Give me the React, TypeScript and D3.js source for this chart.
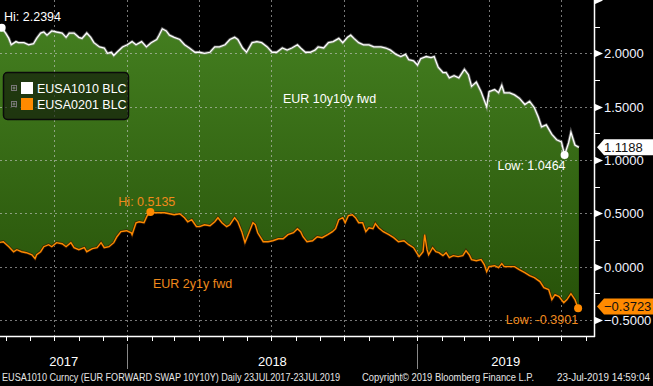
import React from "react";
import * as d3 from "d3";

// EUSA1010 (EUR 10y10y fwd) — [days since 23 Jul 2017, value]
const tenYTenY: [number, number][] = [
  [0, 2.22], [4, 2.2394], [9, 2.19], [13, 2.14], [16, 2.08], [22, 2.11], [25, 2.1], [32, 2.1],
  [38, 2.08], [44, 2.09], [48, 2.14], [53, 2.19], [57, 2.2], [61, 2.17], [67, 2.21], [73, 2.2],
  [80, 2.19], [85, 2.15], [89, 2.19], [95, 2.19], [101, 2.15], [105, 2.14], [111, 2.19], [116, 2.15],
  [120, 2.1], [127, 2.06], [133, 2.05], [137, 2.0], [142, 2.01], [145, 1.98], [149, 2.01], [156, 2.06],
  [162, 2.08], [168, 2.11], [173, 2.08], [180, 2.11], [186, 2.06], [192, 2.1], [199, 2.13], [202, 2.17],
  [206, 2.23], [211, 2.21], [215, 2.17], [221, 2.15], [228, 2.13], [234, 2.08], [240, 2.05], [247, 2.01],
  [253, 2.01], [259, 2.0], [266, 2.01], [272, 2.06], [278, 2.06], [285, 2.08], [291, 2.13], [297, 2.15],
  [301, 2.13], [307, 2.05], [312, 2.01], [319, 2.1], [325, 2.11], [331, 2.1], [338, 2.06], [344, 2.01],
  [350, 2.01], [357, 2.05], [363, 2.03], [369, 2.05], [376, 2.08], [380, 2.05], [386, 2.01], [392, 2.01],
  [398, 2.03], [402, 2.06], [409, 2.05], [415, 2.1], [421, 2.11], [428, 2.14], [433, 2.1], [439, 2.15],
  [443, 2.17], [447, 2.14], [453, 2.1], [459, 2.08], [466, 2.08], [472, 2.06], [481, 2.06], [487, 2.05],
  [493, 2.03], [500, 1.99], [506, 1.97], [512, 1.99], [516, 1.94], [522, 1.93], [527, 1.89], [531, 1.95],
  [538, 1.97], [544, 1.96], [548, 1.97], [553, 1.87], [559, 1.82], [563, 1.82], [567, 1.77], [573, 1.79],
  [579, 1.77], [586, 1.85], [591, 1.8], [595, 1.69], [601, 1.73], [607, 1.64], [614, 1.5], [617, 1.64],
  [624, 1.66], [629, 1.63], [633, 1.7], [636, 1.63], [643, 1.63], [649, 1.61], [655, 1.58], [662, 1.52],
  [668, 1.55], [674, 1.49], [679, 1.4], [683, 1.31], [689, 1.33], [696, 1.24], [702, 1.19], [708, 1.17],
  [712, 1.0464], [717, 1.16], [720, 1.26], [725, 1.14], [730, 1.1188],
];

// EUSA0201 (EUR 2y1y fwd)
const twoYOneY: [number, number][] = [
  [0, 0.225], [6, 0.234], [13, 0.187], [19, 0.14], [23, 0.159], [29, 0.14], [35, 0.131], [42, 0.112],
  [46, 0.075], [48, 0.112], [53, 0.14], [57, 0.187], [63, 0.206], [67, 0.187], [73, 0.225], [80, 0.215],
  [85, 0.187], [91, 0.225], [95, 0.178], [101, 0.159], [108, 0.178], [111, 0.14], [118, 0.169], [124, 0.178],
  [129, 0.225], [133, 0.178], [139, 0.187], [145, 0.225], [149, 0.281], [154, 0.328], [161, 0.337], [167, 0.318],
  [168, 0.3], [173, 0.412], [177, 0.421], [183, 0.412], [187, 0.478], [191, 0.5135], [196, 0.506], [202, 0.506],
  [209, 0.506], [215, 0.496], [221, 0.487], [228, 0.496], [234, 0.459], [238, 0.421], [243, 0.44], [249, 0.375],
  [253, 0.375], [259, 0.393], [266, 0.384], [272, 0.421], [276, 0.459], [281, 0.412], [287, 0.375], [291, 0.393],
  [297, 0.459], [301, 0.421], [306, 0.328], [310, 0.225], [314, 0.3], [320, 0.412], [323, 0.393], [326, 0.318],
  [333, 0.234], [339, 0.234], [345, 0.243], [352, 0.262], [358, 0.262], [364, 0.3], [371, 0.318], [376, 0.356],
  [380, 0.328], [383, 0.281], [388, 0.234], [395, 0.243], [401, 0.281], [407, 0.272], [414, 0.3], [420, 0.328],
  [424, 0.356], [428, 0.44], [433, 0.459], [436, 0.412], [440, 0.478], [445, 0.487], [449, 0.459], [453, 0.412],
  [458, 0.412], [462, 0.328], [466, 0.365], [471, 0.356], [474, 0.403], [478, 0.365], [484, 0.328], [491, 0.3],
  [497, 0.272], [503, 0.234], [510, 0.243], [516, 0.206], [522, 0.178], [529, 0.094], [534, 0.14], [536, 0.3],
  [539, 0.159], [541, 0.112], [546, 0.178], [550, 0.14], [554, 0.131], [559, 0.103], [563, 0.131], [567, 0.084],
  [572, 0.103], [578, 0.094], [584, 0.103], [588, 0.15], [592, 0.112], [595, 0.066], [601, 0.056], [607, 0.066],
  [611, 0.019], [614, -0.047], [617, 0.0], [624, 0.009], [629, -0.009], [633, 0.028], [636, 0.0], [643, 0.0],
  [649, 0.0], [655, -0.028], [662, -0.056], [668, -0.084], [674, -0.103], [681, -0.14], [686, -0.197], [692, -0.215],
  [696, -0.309], [700, -0.262], [705, -0.281], [711, -0.337], [715, -0.309], [720, -0.253], [725, -0.309], [729, -0.3901],
  [730, -0.3723],
];

const majorTicks = [2.5, 2.0, 1.5, 1.0, 0.5, 0.0, -0.5];
const minorTicks = [2.25, 1.75, 1.25, 0.75, 0.25, -0.25];
const years = [2017, 2018, 2019];
const legendItems = [
  { label: "EUSA1010 BLC", color: "#ffffff" },
  { label: "EUSA0201 BLC", color: "#ff8a00" },
];
const footerLeft = "EUSA1010 Curncy (EUR FORWARD SWAP 10Y10Y)  Daily 23JUL2017-23JUL2019";
const footerMid = "Copyright\u00a9 2019 Bloomberg Finance L.P.";
const footerRight = "23-Jul-2019 14:59:04";

const W = 653;
const H = 386;
const AXIS_X = 594;
const PLOT_BOTTOM = 336;
const FONT = "'Liberation Sans', Arial, sans-serif";
const ORANGE = "#ff8a00";
const ORANGE_TEXT = "#f08a1c";

const START = new Date(2017, 6, 23);
const toDate = (d: number) => d3.timeDay.offset(START, d);

export default function App() {
  const x = d3.scaleTime().domain([START, new Date(2019, 7, 11)]).range([-1.5, AXIS_X]);
  const y = d3.scaleLinear().domain([-0.65, 2.5]).range([PLOT_BOTTOM, 0]);
  const fmt = d3.format(".4f");

  const whitePts = tenYTenY.map(([d, v]) => [x(toDate(d)), y(v)] as [number, number]);
  const orangePts = twoYOneY.map(([d, v]) => [x(toDate(d)), y(v)] as [number, number]);
  const line = d3.line();
  const bandPath = line([...whitePts, ...orangePts.slice().reverse()]) + "Z";

  const quarters = d3.timeMonth.every(3)!.range(new Date(2017, 8, 1), new Date(2019, 7, 1));
  const months = d3.timeMonth.range(new Date(2017, 7, 1), new Date(2019, 7, 12));
  const yearBounds = [START, new Date(2018, 0, 1), new Date(2019, 0, 1), new Date(2019, 7, 11)];

  const hiW = tenYTenY.reduce((a, b) => (b[1] > a[1] ? b : a));
  const loW = tenYTenY.reduce((a, b) => (b[1] < a[1] ? b : a));
  const hiO = twoYOneY.reduce((a, b) => (b[1] > a[1] ? b : a));
  const loO = twoYOneY.reduce((a, b) => (b[1] < a[1] ? b : a));
  const lastW = tenYTenY[tenYTenY.length - 1][1];
  const lastO = twoYOneY[twoYOneY.length - 1][1];

  const tag = (yc: number) =>
    `M${AXIS_X + 3},${yc} L${AXIS_X + 10},${yc - 8} L${W},${yc - 8} L${W},${yc + 8} L${AXIS_X + 10},${yc + 8} Z`;

  return (
    <svg
      width={W}
      height={H}
      style={{ position: "absolute", left: 0, top: 0, background: "#000" }}
      fontFamily={FONT}
    >
      <defs>
        <linearGradient id="greenFill" gradientUnits="userSpaceOnUse" x1={0} y1={20} x2={0} y2={320}>
          <stop offset="0%" stopColor="#447f20" />
          <stop offset="100%" stopColor="#265008" />
        </linearGradient>
      </defs>
      <rect width={W} height={H} fill="#000" />

      <path d={bandPath} fill="url(#greenFill)" />

      {/* grid */}
      <g stroke="#c8c8c8" strokeOpacity={0.6} strokeDasharray="2,3" strokeWidth={1}>
        {majorTicks.slice(1).map((t) => (
          <line key={t} x1={0} x2={AXIS_X} y1={Math.round(y(t)) + 0.5} y2={Math.round(y(t)) + 0.5} />
        ))}
        {quarters.map((q) => (
          <line key={+q} x1={Math.round(x(q)) + 0.5} x2={Math.round(x(q)) + 0.5} y1={0} y2={PLOT_BOTTOM} />
        ))}
      </g>

      {/* series lines */}
      <path d={line(whitePts)!} fill="none" stroke="#9a9a9a" strokeOpacity={0.55} strokeWidth={3} />
      <path d={line(whitePts)!} fill="none" stroke="#ffffff" strokeWidth={1.3} />
      <path d={line(orangePts)!} fill="none" stroke="#3a1a00" strokeOpacity={0.7} strokeWidth={3} />
      <path d={line(orangePts)!} fill="none" stroke={ORANGE} strokeWidth={1.4} />

      {/* hi/low markers */}
      <circle cx={x(toDate(hiW[0]))} cy={y(hiW[1])} r={4} fill="#fff" />
      <circle cx={x(toDate(loW[0]))} cy={y(loW[1])} r={4} fill="#fff" />
      <circle cx={x(toDate(hiO[0]))} cy={y(hiO[1])} r={4} fill={ORANGE} />
      <circle cx={x(toDate(loO[0]))} cy={y(loO[1])} r={4} fill={ORANGE} />

      <g fontSize={12.5}>
        <text x={4} y={21} fill="#fff">Hi: {hiW[1].toFixed(4)}</text>
        <text x={283} y={103} fill="#fff">EUR 10y10y fwd</text>
        <text x={x(toDate(loW[0])) + 1} y={y(loW[1]) + 15} textAnchor="end" fill="#fff">
          Low: {loW[1].toFixed(4)}
        </text>
        <text x={x(toDate(hiO[0])) - 32} y={y(hiO[1]) - 6} fill={ORANGE_TEXT}>Hi: {hiO[1].toFixed(4)}</text>
        <text x={153} y={288} fill={ORANGE_TEXT}>EUR 2y1y fwd</text>
        <text x={x(toDate(loO[0]))} y={y(loO[1]) + 16} textAnchor="end" fill={ORANGE_TEXT}>
          Low: {loO[1].toFixed(4)}
        </text>
      </g>

      {/* legend */}
      <g>
        <rect x={3.5} y={72.5} width={125} height={47} rx={4} fill="rgba(14,20,10,0.62)" stroke="#0a0a0a" strokeWidth={1.5} />
        {legendItems.map((it, i) => {
          const cy = 88 + i * 16;
          return (
            <g key={it.label}>
              <rect x={11.5} y={cy - 2.5} width={5} height={5} fill="none" stroke="#777" strokeWidth={1} />
              <line x1={12.5} x2={15.5} y1={cy} y2={cy} stroke="#888" />
              <line x1={14} x2={14} y1={cy - 1.5} y2={cy + 1.5} stroke="#888" />
              <rect x={21} y={cy - 6} width={12} height={12} fill={it.color} />
              <text x={37} y={cy + 4.5} fill="#fff" fontSize={12.5}>{it.label}</text>
            </g>
          );
        })}
      </g>

      {/* right axis */}
      <line x1={AXIS_X + 0.5} x2={AXIS_X + 0.5} y1={0} y2={PLOT_BOTTOM + 1} stroke="#fff" strokeWidth={1.5} />
      {minorTicks.map((t) => (
        <line key={t} x1={AXIS_X} x2={AXIS_X + 6} y1={Math.round(y(t)) + 0.5} y2={Math.round(y(t)) + 0.5} stroke="#fff" />
      ))}
      {majorTicks.map((t) => {
        const yc = Math.round(y(t)) + 0.5;
        return (
          <g key={t}>
            <path d={`M${AXIS_X},${yc - 4} L${AXIS_X + 9},${yc} L${AXIS_X},${yc + 4} Z`} fill="#fff" />
            {t < 2.4 && (
              <text x={604} y={yc + 4.5} fill="#f2f4ff" fontSize={13}>
                {fmt(t)}
              </text>
            )}
          </g>
        );
      })}

      {/* last value tags */}
      <path d={tag(y(lastW))} fill="#fff" />
      <text x={604} y={y(lastW) + 5} fill="#111" fontSize={13}>{fmt(lastW)}</text>
      <path d={tag(y(lastO))} fill={ORANGE} />
      <text x={604} y={y(lastO) + 5} fill="#111" fontSize={13}>{fmt(lastO)}</text>

      {/* bottom axis */}
      <line x1={0} x2={AXIS_X + 1} y1={PLOT_BOTTOM + 0.5} y2={PLOT_BOTTOM + 0.5} stroke="#fff" strokeWidth={1.5} />
      {months.map((m) => (
        <line key={+m} x1={Math.round(x(m)) + 0.5} x2={Math.round(x(m)) + 0.5} y1={PLOT_BOTTOM} y2={PLOT_BOTTOM + 5} stroke="#fff" />
      ))}
      {yearBounds.slice(1, 3).map((b) => (
        <line key={+b} x1={Math.round(x(b)) + 0.5} x2={Math.round(x(b)) + 0.5} y1={344} y2={369} stroke="#888" />
      ))}
      {years.map((yr, i) => (
        <text
          key={yr}
          x={(Math.max(0, x(yearBounds[i])) + x(yearBounds[i + 1])) / 2}
          y={366}
          textAnchor="middle"
          fill="#fff"
          fontSize={13}
        >
          {yr}
        </text>
      ))}

      {/* footer */}
      <g fill="#e6e6e6" fontSize={10}>
        <text x={2} y={381} textLength={338} lengthAdjust="spacingAndGlyphs">{footerLeft}</text>
        <text x={362} y={381} textLength={172} lengthAdjust="spacingAndGlyphs">{footerMid}</text>
        <text x={557} y={381} textLength={93} lengthAdjust="spacingAndGlyphs">{footerRight}</text>
      </g>
    </svg>
  );
}
